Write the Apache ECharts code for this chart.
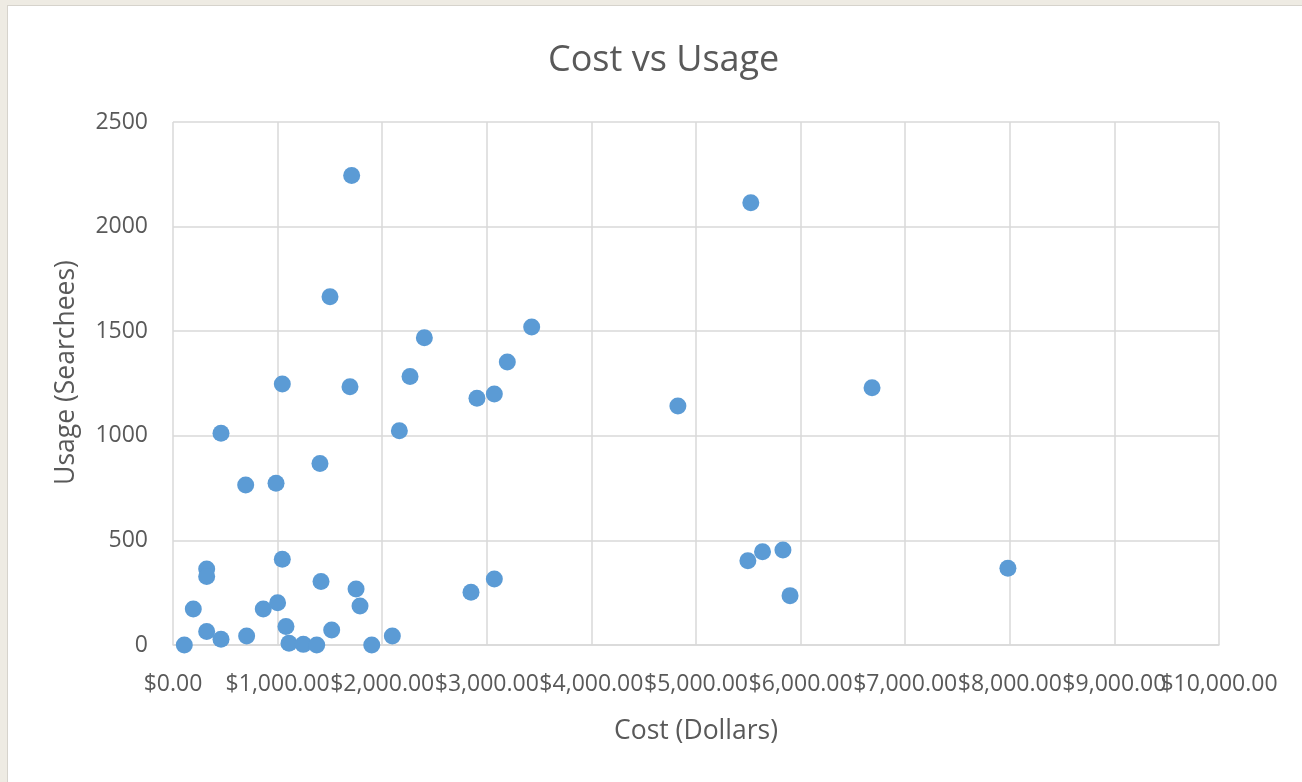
<!DOCTYPE html>
<html>
<head>
<meta charset="utf-8">
<script src="https://cdn.jsdelivr.net/npm/echarts@6/dist/echarts.min.js"></script>
<style>
  html, body { margin: 0; padding: 0; width: 1302px; height: 782px; overflow: hidden; background: #eeebe3; }
  #panel { position: absolute; left: 7px; top: 5px; width: 1295px; height: 777px; background: #ffffff;
           border-left: 1px solid #d6d3cc; border-top: 1px solid #d6d3cc; box-sizing: border-box; }
  #chart { position: absolute; left: 0; top: 0; width: 1302px; height: 782px; }
</style>
</head>
<body>
<div id="panel"></div>
<div id="chart"></div>
<script>
const costDollars = [1708, 5524, 1501, 3429, 2403, 3196, 1045, 1692, 2266, 6683, 2906, 3072, 4827, 459, 2164,
  1405, 695, 985, 5496, 5636, 5831, 1045, 7982, 322, 322, 1415, 3072, 1750, 2849, 5899, 194, 863, 1000, 1788,
  1080, 322, 1517, 459, 704, 2097, 1109, 1246, 1374, 108, 1900];
const usageSearches = [2244, 2114, 1665, 1520, 1469, 1353, 1248, 1235, 1283, 1230, 1179, 1200, 1142, 1012, 1024,
  868, 765, 773, 403, 446, 454, 410, 367, 363, 327, 303, 315, 268, 252, 236, 172, 172, 202, 186,
  88, 64, 72, 27, 43, 43, 8, 3, 0, 0, 0];
const titleText = 'Cost vs Usage';
const xAxisName = 'Cost (Dollars)';
const yAxisName = 'Usage (Searchees)';
const xMin = 0, xMax = 10000, xStep = 1000;
const yMin = 0, yMax = 2500, yStep = 500;

const points = costDollars.map((c, i) => [c, usageSearches[i]]);
const textColor = '#595959';
const gridColor = '#d9d9d9';
const font = 'Open Sans';
const money = v => '$' + v.toLocaleString('en-US', { minimumFractionDigits: 2, maximumFractionDigits: 2 });
const labelBase = { fontFamily: font, fontSize: 23, color: textColor, margin: 28, hideOverlap: false, interval: 0 };

const chart = echarts.init(document.getElementById('chart'), null, { renderer: 'canvas' });
chart.setOption({
  backgroundColor: 'transparent',
  animation: false,
  title: {
    text: titleText,
    left: 543,
    top: 38,
    textStyle: { fontFamily: font, fontSize: 36, fontWeight: 'normal', color: textColor }
  },
  grid: { left: 173, right: 83, top: 122, bottom: 137, containLabel: false },
  xAxis: [{
    type: 'value',
    position: 'bottom',
    min: xMin, max: xMax, interval: xStep,
    name: xAxisName,
    nameLocation: 'middle',
    nameGap: 73,
    nameTextStyle: { fontFamily: font, fontSize: 26.5, color: textColor },
    axisLine: { show: true, lineStyle: { color: gridColor, width: 1.5 } },
    axisTick: { show: false },
    axisLabel: Object.assign({}, labelBase, {
      showMinLabel: true, showMaxLabel: true,
      formatter: v => (v === xMax ? '' : money(v))
    }),
    splitLine: { show: true, lineStyle: { color: gridColor, width: 1.5 } }
  }, {
    type: 'value',
    position: 'bottom',
    min: xMin, max: xMax, interval: xStep,
    axisLine: { show: false },
    axisTick: { show: false },
    splitLine: { show: false },
    axisLabel: Object.assign({}, labelBase, {
      showMinLabel: true, showMaxLabel: true,
      formatter: v => (v === xMax ? money(v) : '')
    })
  }],
  yAxis: {
    type: 'value',
    min: yMin, max: yMax, interval: yStep,
    name: yAxisName,
    nameLocation: 'middle',
    nameGap: 93,
    nameTextStyle: { fontFamily: font, fontSize: 26.5, color: textColor, padding: [0, 0, 0, 22] },
    axisLine: { show: false },
    axisTick: { show: false },
    axisLabel: { fontFamily: font, fontSize: 23, color: textColor, margin: 25, formatter: v => String(v) },
    splitLine: { show: true, lineStyle: { color: gridColor, width: 1.5 } }
  },
  series: [{
    type: 'scatter',
    xAxisIndex: 0,
    data: points,
    symbol: 'circle',
    symbolSize: 17,
    itemStyle: { color: '#5B9BD5', opacity: 1 },
    clip: false
  }]
});
</script>
</body>
</html>
